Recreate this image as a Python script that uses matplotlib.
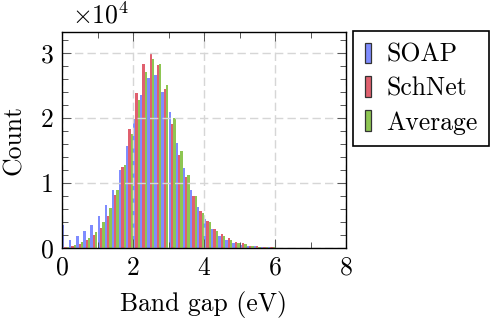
import numpy as np
import matplotlib
matplotlib.use("Agg")
import matplotlib.pyplot as plt
from matplotlib.patches import Patch
from matplotlib.ticker import MultipleLocator, FuncFormatter

# histogram bins (eV), width 0.2
bin_centers = [0.1, 0.3, 0.5, 0.7, 0.9, 1.1, 1.3, 1.5, 1.7, 1.9,
               2.1, 2.3, 2.5, 2.7, 2.9, 3.1, 3.3, 3.5, 3.7, 3.9,
               4.1, 4.3, 4.5, 4.7, 4.9, 5.1, 5.3, 5.5, 5.7, 5.9,
               6.1, 6.3]
soap = [3440, 1230, 1850, 2520, 3490, 4940, 6580, 8840, 11930, 15630,
        19800, 23500, 26170, 26590, 24010, 20930, 16140, 12290, 8840, 6270,
        4370, 2880, 1740, 1130, 770, 460, 310, 200, 100, 50,
        20, 10]
schnet = [150, 250, 620, 1130, 1900, 3090, 4880, 8070, 12440, 18210,
          23860, 28290, 29940, 28080, 24430, 19030, 14240, 10900, 7970, 5650,
          4110, 2880, 2050, 1440, 920, 660, 310, 200, 100, 50,
          20, 10]
average = [150, 350, 820, 1540, 2360, 3950, 6110, 8840, 12800, 17440,
           22730, 27000, 29010, 28290, 25050, 19950, 14910, 11160, 7970, 5340,
           3900, 2570, 1740, 1130, 770, 510, 260, 150, 80, 40,
           15, 5]
labels = ["SOAP", "SchNet", "Average"]
colors = ["#7f8cff", "#e0606e", "#8ec652"]

plt.rcParams["font.family"] = "cmr10"
plt.rcParams["mathtext.fontset"] = "cm"
plt.rcParams["axes.formatter.use_mathtext"] = True
fs = 18.5

fig = plt.figure(figsize=(4.92, 3.24), dpi=100)
ax = fig.add_axes([62 / 492, 1 - 247.7 / 324, 284 / 492, 215.4 / 324])

w = 0.2 / 3
x = np.array(bin_centers)
for i, (vals, c) in enumerate(zip([soap, schnet, average], colors)):
    ax.bar(x + (i - 1) * w, vals, width=w, color=c, linewidth=0, zorder=1)

ax.set_xlim(0, 8)
ax.set_ylim(0, 33150)
ax.xaxis.set_major_locator(MultipleLocator(2))
ax.xaxis.set_minor_locator(MultipleLocator(1))
ax.yaxis.set_major_locator(MultipleLocator(10000))
ax.yaxis.set_minor_locator(MultipleLocator(2000))
ax.yaxis.set_major_formatter(FuncFormatter(lambda v, p: f"{v / 1e4:.0f}"))
ax.tick_params(which="both", direction="in", top=True, right=True,
               color="#555555", width=0.7, labelsize=fs)
ax.tick_params(which="major", length=6.5, pad=6)
ax.tick_params(which="minor", length=4.5)
ax.grid(True, which="major", color="#d6d6d6", linestyle=(0, (6, 3)),
        linewidth=1.0, zorder=2)
ax.set_axisbelow(False)
for s in ax.spines.values():
    s.set_linewidth(1.0)
    s.set_zorder(3)

ax.set_xlabel("Band gap (eV)", fontsize=fs, labelpad=8)
ax.set_ylabel("Count", fontsize=fs, labelpad=11)
fig.text(72 / 492, 1 - 24 / 324, r"$\times 10^4$", fontsize=fs,
         ha="left", va="baseline")

handles = [Patch(facecolor=c, edgecolor="#333333", linewidth=0.9) for c in colors]
ax.legend(handles, labels, loc="upper left", fontsize=fs,
          bbox_to_anchor=(353 / 492, 1 - 31 / 324), bbox_transform=fig.transFigure,
          borderaxespad=0, fancybox=False, edgecolor="black", framealpha=1,
          handlelength=0.25, handleheight=0.85, handletextpad=0.6,
          labelspacing=0.38, borderpad=0.45)
ax.get_legend().get_frame().set_linewidth(1.2)

fig.savefig("out.png", dpi=100)
